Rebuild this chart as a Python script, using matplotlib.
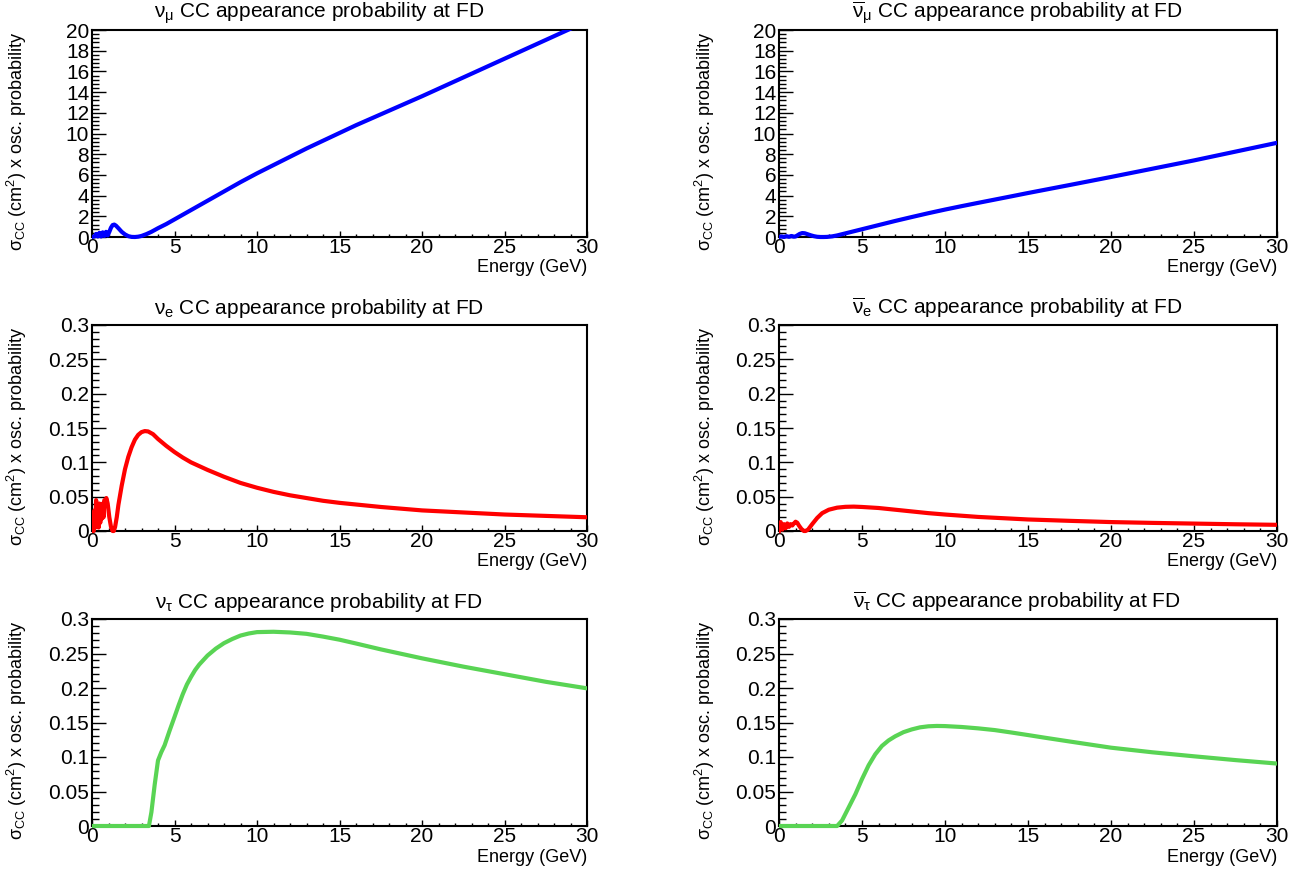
import matplotlib
matplotlib.use("Agg")
import matplotlib.pyplot as plt
from matplotlib.patches import Rectangle
from matplotlib.ticker import MultipleLocator

plt.rcParams['font.family'] = ['Liberation Sans', 'DejaVu Sans']
plt.rcParams['mathtext.fontset'] = 'custom'
plt.rcParams['mathtext.rm'] = 'Liberation Sans'
plt.rcParams['mathtext.it'] = 'Liberation Sans'
plt.rcParams['mathtext.sf'] = 'Liberation Sans'
plt.rcParams['mathtext.bf'] = 'Liberation Sans:bold'

# sigma_CC x oscillation probability vs neutrino energy (GeV)
numu_E = [0, 0.15, 0.25, 0.35, 0.45, 0.55, 0.65, 0.75, 0.85, 0.95, 1.05, 1.15, 1.25,
          1.35, 1.45, 1.6, 1.8, 2.0, 2.2, 2.4, 2.6, 2.8, 3.0, 3.3, 3.6, 4.0, 4.5, 5,
          5.5, 6, 7, 8, 9, 10, 11, 12, 13, 14, 15, 16, 17, 18, 19, 20, 22, 24, 26, 28, 30]
numu_val = [0, 0.05, 0.3, 0.05, 0.4, 0.05, 0.45, 0.1, 0.5, 0.15, 0.5, 0.9, 1.15,
            1.2, 1.1, 0.85, 0.5, 0.25, 0.08, 0.01, 0, 0.03, 0.1, 0.28, 0.5, 0.85, 1.25, 1.7,
            2.15, 2.6, 3.5, 4.4, 5.3, 6.15, 6.95, 7.75, 8.55, 9.3, 10.05, 10.8, 11.5, 12.2,
            12.9, 13.6, 15.05, 16.5, 17.95, 19.4, 20.85]

numubar_E = [0, 0.15, 0.3, 0.45, 0.6, 0.75, 0.9, 1.0, 1.1, 1.25, 1.4, 1.55, 1.7, 1.9,
             2.1, 2.3, 2.5, 2.7, 2.9, 3.2, 3.5, 4.0, 4.5, 5, 6, 7, 8, 9, 10, 11, 12, 14,
             15, 17.5, 20, 22.5, 25, 27.5, 30]
numubar_val = [0, 0.06, 0.0, 0.08, 0.02, 0.1, 0.03, 0.05, 0.15, 0.3, 0.38, 0.36, 0.28, 0.17,
               0.08, 0.02, 0.0, 0.0, 0.01, 0.06, 0.15, 0.35, 0.55, 0.75, 1.15, 1.55, 1.93,
               2.3, 2.65, 2.98, 3.3, 3.93, 4.25, 5.02, 5.8, 6.6, 7.4, 8.25, 9.1]

nue_E = [0, 0.05, 0.1, 0.15, 0.2, 0.25, 0.3, 0.35, 0.4, 0.45, 0.5, 0.55, 0.6, 0.65, 0.7,
         0.75, 0.8, 0.87, 0.95, 1.05, 1.15, 1.25, 1.32, 1.4, 1.5, 1.6, 1.8, 2.0, 2.2, 2.4,
         2.6, 2.8, 3.0, 3.2, 3.4, 3.7, 4.0, 4.5, 5, 5.5, 6, 7, 8, 9, 10, 11, 12, 13, 14, 15,
         17.5, 20, 22.5, 25, 27.5, 30]
nue_val = [0, 0.02, 0.0, 0.03, 0.005, 0.045, 0.01, 0.035, 0.005, 0.04, 0.012, 0.038, 0.018,
           0.04, 0.02, 0.045, 0.042, 0.048, 0.04, 0.02, 0.006, 0.0, 0.0, 0.006, 0.02, 0.038,
           0.066, 0.09, 0.108, 0.122, 0.133, 0.14, 0.144, 0.1455, 0.145, 0.141, 0.134, 0.124,
           0.115, 0.107, 0.1, 0.089, 0.079, 0.07, 0.063, 0.057, 0.052, 0.048, 0.044, 0.041,
           0.035, 0.03, 0.027, 0.024, 0.022, 0.02]

nuebar_E = [0, 0.1, 0.2, 0.3, 0.4, 0.5, 0.6, 0.7, 0.8, 0.9, 1.0, 1.1, 1.2, 1.35, 1.5, 1.6,
            1.75, 2.0, 2.3, 2.6, 3.0, 3.5, 4.0, 4.5, 5, 6, 7, 8, 9, 10, 12, 15, 17.5, 20,
            22.5, 25, 27.5, 30]
nuebar_val = [0, 0.013, 0.002, 0.01, 0.004, 0.011, 0.006, 0.01, 0.008, 0.011, 0.0135, 0.012,
              0.008, 0.003, 0.0, 0.0, 0.002, 0.01, 0.019, 0.026, 0.031, 0.034, 0.0352, 0.0355,
              0.035, 0.0335, 0.031, 0.0285, 0.026, 0.024, 0.0205, 0.0168, 0.0148, 0.013,
              0.0118, 0.0108, 0.0098, 0.009]

nutau_E = [0, 3.45, 3.6, 3.8, 4.0, 4.2, 4.4, 4.7, 5.0, 5.25, 5.5, 5.75, 6.0, 6.25, 6.5,
           7.0, 7.5, 8.0, 8.5, 9.0, 9.5, 10.0, 11.0, 12.0, 13.0, 14.0, 15.0, 16.0, 17.5,
           20.0, 22.5, 25.0, 27.5, 30.0]
nutau_val = [0, 0, 0.02, 0.06, 0.095, 0.107, 0.117, 0.138, 0.158, 0.175, 0.191, 0.205,
             0.216, 0.226, 0.234, 0.247, 0.257, 0.265, 0.271, 0.276, 0.279, 0.281, 0.2815,
             0.2805, 0.2785, 0.2745, 0.27, 0.2645, 0.256, 0.243, 0.231, 0.22, 0.209, 0.1995]

nutaubar_E = [0, 3.5, 3.8, 4.2, 4.6, 5.0, 5.4, 5.8, 6.2, 6.6, 7.0, 7.5, 8.0, 8.5, 9.0, 9.5,
              10, 11, 12, 13, 14, 15, 16, 17.5, 20, 22.5, 25, 27.5, 30]
nutaubar_val = [0, 0, 0.008, 0.027, 0.046, 0.068, 0.088, 0.104, 0.116, 0.124, 0.13, 0.136,
                0.14, 0.143, 0.1445, 0.145, 0.1448, 0.1435, 0.1415, 0.139, 0.1355, 0.1318,
                0.128, 0.1225, 0.1135, 0.1068, 0.101, 0.0955, 0.0905]

titles = [r"$\nu_{\mu}$ CC appearance probability at FD",
          r"$\overline{\nu}_{\mu}$ CC appearance probability at FD",
          r"$\nu_{e}$ CC appearance probability at FD",
          r"$\overline{\nu}_{e}$ CC appearance probability at FD",
          r"$\nu_{\tau}$ CC appearance probability at FD",
          r"$\overline{\nu}_{\tau}$ CC appearance probability at FD"]

panels = [(numu_E, numu_val, 'blue', 20),
          (numubar_E, numubar_val, 'blue', 20),
          (nue_E, nue_val, 'red', 0.3),
          (nuebar_E, nuebar_val, 'red', 0.3),
          (nutau_E, nutau_val, '#59d454', 0.3),
          (nutaubar_E, nutaubar_val, '#59d454', 0.3)]

W, H = 1314, 874
fig = plt.figure(figsize=(W / 100, H / 100), dpi=100)

col_x = [(92, 587), (779, 1277)]
row_y = [(30, 237), (325, 531), (619, 826)]
title_x = [319, 1017]
ylab_x = [17, 705]

fs = 15
fs_lab = 13
for i, (E, val, color, ymax) in enumerate(panels):
    r, c = divmod(i, 2)
    x0, x1 = col_x[c]
    yt, yb = row_y[r]
    ax = fig.add_axes([x0 / W, 1 - yb / H, (x1 - x0) / W, (yb - yt) / H])
    ax.set_xlim(0, 30)
    ax.set_ylim(0, ymax)
    ln, = ax.plot(E, val, color=color, lw=3, zorder=5, solid_joinstyle='round')
    clip = Rectangle((0, -0.05), 1, 1.05, transform=ax.transAxes)
    ln.set_clip_path(clip)

    ax.xaxis.set_major_locator(MultipleLocator(5))
    ax.xaxis.set_minor_locator(MultipleLocator(1))
    if ymax == 20:
        ax.yaxis.set_major_locator(MultipleLocator(2))
        ax.yaxis.set_minor_locator(MultipleLocator(0.4))
    else:
        ax.yaxis.set_minor_locator(MultipleLocator(0.01))
        ax.set_yticks([0, 0.05, 0.1, 0.15, 0.2, 0.25, 0.3])
        ax.set_yticklabels(['0', '0.05', '0.1', '0.15', '0.2', '0.25', '0.3'])

    ax.tick_params(axis='y', which='major', direction='in', length=10, width=1, labelsize=fs, pad=2)
    ax.tick_params(axis='y', which='minor', direction='in', length=5, width=1)
    ax.tick_params(axis='x', which='major', direction='in', length=4.5, width=1, labelsize=fs, pad=1)
    ax.tick_params(axis='x', which='minor', direction='in', length=2.3, width=1)
    for s in ax.spines.values():
        s.set_linewidth(1.5)

    fig.text(title_x[c] / W, 1 - (yt - 17) / H, titles[i], ha='center', va='center', fontsize=fs)
    fig.text(x1 / W, 1 - (yb + 31) / H, "Energy (GeV)", ha='right', va='center', fontsize=fs_lab)
    fig.text(ylab_x[c] / W, 1 - (yt + 1) / H, r"$\sigma_{CC}$ (cm$^{2}$) x osc. probability",
             rotation=90, ha='center', va='top', fontsize=fs_lab)

fig.savefig("out.png", dpi=100)
